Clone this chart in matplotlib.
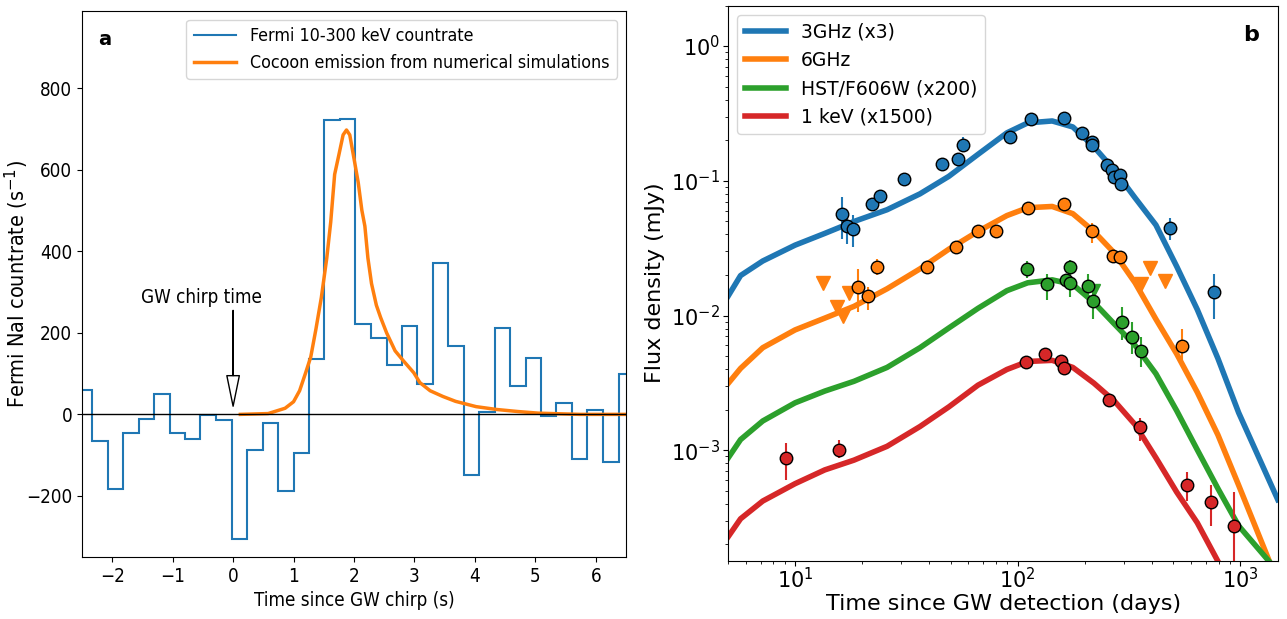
import numpy as np
import matplotlib
matplotlib.use("Agg")
import matplotlib.pyplot as plt
from matplotlib.font_manager import FontProperties

# ---- panel a: Fermi GBM countrate ----
bin_edges = [-2.58, -2.33, -2.07, -1.82, -1.56, -1.31, -1.05, -0.79, -0.54, -0.28,
             -0.02, 0.23, 0.49, 0.75, 1.00, 1.26, 1.51, 1.77, 2.02, 2.28,
             2.54, 2.79, 3.05, 3.30, 3.56, 3.82, 4.07, 4.33, 4.58, 4.84,
             5.10, 5.35, 5.61, 5.86, 6.12, 6.38, 6.63]
countrate = [60, -66, -182, -46, -12, 50, -45, -61, -1, -13,
             -306, -88, -22, -188, -95, 135, 723, 725, 221, 188,
             120, 218, 75, 372, 169, -149, 6, 212, 69, 139,
             -5, 28, -109, 10, -118, 99]

cocoon_t = [0.12, 0.58, 0.86, 1.0, 1.10, 1.20, 1.285, 1.37, 1.46, 1.55, 1.615, 1.68,
            1.75, 1.82, 1.876, 1.93, 2.0, 2.07, 2.13, 2.18, 2.23, 2.29, 2.37, 2.44,
            2.54, 2.68, 2.82, 2.99, 3.09, 3.26, 3.47, 3.68, 4.02, 4.36, 4.71, 5.05,
            5.74, 6.5]
cocoon_rate = [0, 2, 15, 31, 58, 102, 141, 209, 287, 384, 472, 589,
               637, 686, 698, 686, 628, 569, 501, 462, 384, 321, 268, 238,
               200, 156, 131, 102, 78, 58, 44, 32, 19, 12, 7, 3,
               0, 0]

# ---- panel b: afterglow light curves ----
t_model = [4.93, 5.69, 7.16, 10, 13.6, 18.4, 25.9, 36.4, 49.1, 66.3, 89.5, 111, 143,
           177, 220, 272, 337, 418, 518, 641, 794, 984, 1475]
model_3ghz = [0.0134, 0.0198, 0.0254, 0.0333, 0.0407, 0.0499, 0.061, 0.080, 0.108, 0.157,
              0.227, 0.269, 0.278, 0.251, 0.179, 0.120, 0.0747, 0.047, 0.0232, 0.0111,
              0.0048, 0.0019, 0.00043]
model_6ghz = [0.00304, 0.00405, 0.00577, 0.00782, 0.00957, 0.0117, 0.0158, 0.0222, 0.0311,
              0.0421, 0.0552, 0.0631, 0.0645, 0.057, 0.0421, 0.0291, 0.0175, 0.0094,
              0.0052, 0.0027, 0.0013, 0.00055, 0.000105]
model_hst = [0.000845, 0.0012, 0.00165, 0.00225, 0.00275, 0.00325, 0.00412, 0.00577,
             0.00809, 0.0113, 0.0153, 0.0175, 0.0184, 0.017, 0.0125, 0.00865, 0.0060,
             0.0037, 0.00197, 0.00101, 0.00052, 0.000275, 0.000126]
model_xray = [0.00022, 0.00031, 0.00042, 0.000565, 0.000715, 0.000845, 0.00107, 0.0015,
              0.0021, 0.00304, 0.00398, 0.00456, 0.00465, 0.00412, 0.00315, 0.00232,
              0.00155, 0.00088, 0.00049, 0.00029, 0.00015, 7e-5, 2e-5]

t_3ghz = [16.3, 17.2, 18.2, 22.2, 24.0, 30.9, 45.8, 53.9, 56.8, 92.3, 114.3, 161.4,
          195, 216, 215, 253, 266, 271, 287, 292, 484, 762]
f_3ghz = [0.0565, 0.046, 0.0442, 0.0678, 0.0772, 0.1026, 0.1325, 0.144, 0.183, 0.211,
          0.289, 0.294, 0.2275, 0.194, 0.183, 0.130, 0.1197, 0.1067, 0.110, 0.0942,
          0.0447, 0.01485]
f_3ghz_lo = [0.037, 0.034, 0.032, 0.060, 0.070, 0.098, 0.126, 0.130, 0.165, 0.205,
             0.28, 0.285, 0.22, 0.185, 0.170, 0.125, 0.113, 0.100, 0.105, 0.087,
             0.0362, 0.00942]
f_3ghz_hi = [0.076, 0.058, 0.056, 0.075, 0.085, 0.108, 0.139, 0.160, 0.210, 0.218,
             0.30, 0.305, 0.235, 0.205, 0.195, 0.135, 0.127, 0.114, 0.116, 0.100,
             0.0534, 0.0203]

t_6ghz = [19.1, 21.2, 23.4, 39.0, 53.0, 66.5, 79.6, 111.3, 161.4, 215, 269, 287, 546]
f_6ghz = [0.0163, 0.01394, 0.023, 0.023, 0.0323, 0.0425, 0.0422, 0.0633, 0.0678, 0.0422,
          0.0277, 0.0273, 0.00598]
f_6ghz_lo = [0.0107, 0.0109, 0.020, 0.0215, 0.0295, 0.040, 0.039, 0.060, 0.064, 0.0343,
             0.026, 0.0258, 0.0047]
f_6ghz_hi = [0.0220, 0.0164, 0.0265, 0.0245, 0.035, 0.045, 0.045, 0.066, 0.071, 0.0487,
             0.0295, 0.029, 0.0079]
t_6ghz_ul = [13.4, 15.4, 16.4, 17.4, 358, 394, 459]
f_6ghz_ul = [0.0175, 0.0115, 0.0099, 0.0146, 0.0172, 0.0227, 0.0179]

t_hst = [109.7, 135.8, 164.3, 171.8, 171.8, 207.7, 217.8, 295, 325.5, 359]
f_hst = [0.0221, 0.017, 0.0183, 0.023, 0.0173, 0.0167, 0.0128, 0.0089, 0.0069, 0.00548]
f_hst_lo = [0.019, 0.0131, 0.016, 0.020, 0.0138, 0.0135, 0.0094, 0.0066, 0.0052, 0.00417]
f_hst_hi = [0.0255, 0.0205, 0.0205, 0.026, 0.019, 0.0205, 0.0164, 0.0116, 0.0089, 0.0069]
t_hst_ul = [220]
f_hst_ul = [0.0155]

t_xray = [9.12, 15.7, 108.6, 132.7, 157, 161, 258, 355.6, 578, 736, 935]
f_xray = [0.000869, 0.00101, 0.00453, 0.00516, 0.00462, 0.00406, 0.00237, 0.0015,
          0.000552, 0.000413, 0.000276]
f_xray_lo = [0.000604, 0.00088, 0.0043, 0.0049, 0.0044, 0.0038, 0.00222, 0.00118,
             0.000418, 0.000276, 0.00012]
f_xray_hi = [0.00114, 0.00119, 0.0048, 0.0054, 0.0049, 0.0043, 0.0025, 0.00174,
             0.000685, 0.000548, 0.000487]


def cond(size):
    return FontProperties(family="DejaVu Sans", stretch="condensed", size=size)


fig = plt.figure(figsize=(12.87, 6.19), dpi=100)
ax1 = fig.add_axes([0.0637, 0.1002, 0.4227, 0.882])
ax2 = fig.add_axes([0.5657, 0.0945, 0.4274, 0.8966])

# panel a
ax1.stairs(countrate, bin_edges, baseline=None, color="C0", lw=1.5,
           label="Fermi 10-300 keV countrate")
ax1.plot(cocoon_t, cocoon_rate, color="C1", lw=2.5,
         label="Cocoon emission from numerical simulations")
ax1.axhline(0, color="k", lw=1)
ax1.set_xlim(-2.5, 6.5)
ax1.set_ylim(-350, 990)
ax1.text(-0.52, 287, "GW chirp time", ha="center", va="center", fontproperties=cond(13.5))
ax1.annotate("", xy=(0, 20), xytext=(0, 255),
             arrowprops=dict(facecolor="white", edgecolor="black", width=0.3,
                             headwidth=9, headlength=22, lw=1))
ax1.text(0.03, 0.965, "a", transform=ax1.transAxes, fontsize=14, fontweight="bold",
         va="top")
xt = [-2, -1, 0, 1, 2, 3, 4, 5, 6]
ax1.set_xticks(xt, [str(v).replace("-", "\u2212") for v in xt], fontproperties=cond(13.5))
yt = [-200, 0, 200, 400, 600, 800]
ax1.set_yticks(yt, [str(v).replace("-", "\u2212") for v in yt], fontproperties=cond(13.5))
ax1.set_xlabel("Time since GW chirp (s)", fontproperties=cond(13.5))
ax1.set_ylabel("Fermi NaI countrate (s$^{-1}$)", fontproperties=cond(15.5))
ax1.yaxis.set_label_coords(-0.094, 0.5)
ax1.legend(loc="upper right", prop=cond(12.8), handlelength=2.4)

# panel b
ax2.plot(t_model, model_3ghz, color="C0", lw=4, label="3GHz (x3)")
ax2.plot(t_model, model_6ghz, color="C1", lw=4, label="6GHz")
ax2.plot(t_model, model_hst, color="C2", lw=4, label="HST/F606W (x200)")
ax2.plot(t_model, model_xray, color="C3", lw=4, label="1 keV (x1500)")

series = [(t_3ghz, f_3ghz, f_3ghz_lo, f_3ghz_hi, "C0"),
          (t_6ghz, f_6ghz, f_6ghz_lo, f_6ghz_hi, "C1"),
          (t_hst, f_hst, f_hst_lo, f_hst_hi, "C2"),
          (t_xray, f_xray, f_xray_lo, f_xray_hi, "C3")]
for t, f, lo, hi, c in series:
    f = np.array(f)
    yerr = [f - np.array(lo), np.array(hi) - f]
    ax2.errorbar(t, f, yerr=yerr, fmt="o", color=c, ms=9, mec="k", mew=1,
                 elinewidth=1.5, capsize=0, zorder=4)
ax2.plot(t_6ghz_ul, f_6ghz_ul, "v", color="C1", ms=10, zorder=3)
ax2.plot(t_hst_ul, f_hst_ul, "v", color="C2", ms=8, zorder=3)

ax2.set_xscale("log")
ax2.set_yscale("log")
ax2.set_xlim(5, 1480)
ax2.set_ylim(1.52e-4, 2.0)
ax2.tick_params(axis="x", labelsize=15, pad=1.5)
ax2.tick_params(axis="y", labelsize=15, pad=2.5)
ax2.set_xlabel("Time since GW detection (days)", fontsize=16, labelpad=1)
ax2.set_ylabel("Flux density (mJy)", fontsize=16)
ax2.text(0.965, 0.965, "b", transform=ax2.transAxes, fontsize=16, fontweight="bold",
         ha="right", va="top")
ax2.legend(loc="upper left", fontsize=13.5, handlelength=2.2)

fig.savefig("out.png", dpi=100)
